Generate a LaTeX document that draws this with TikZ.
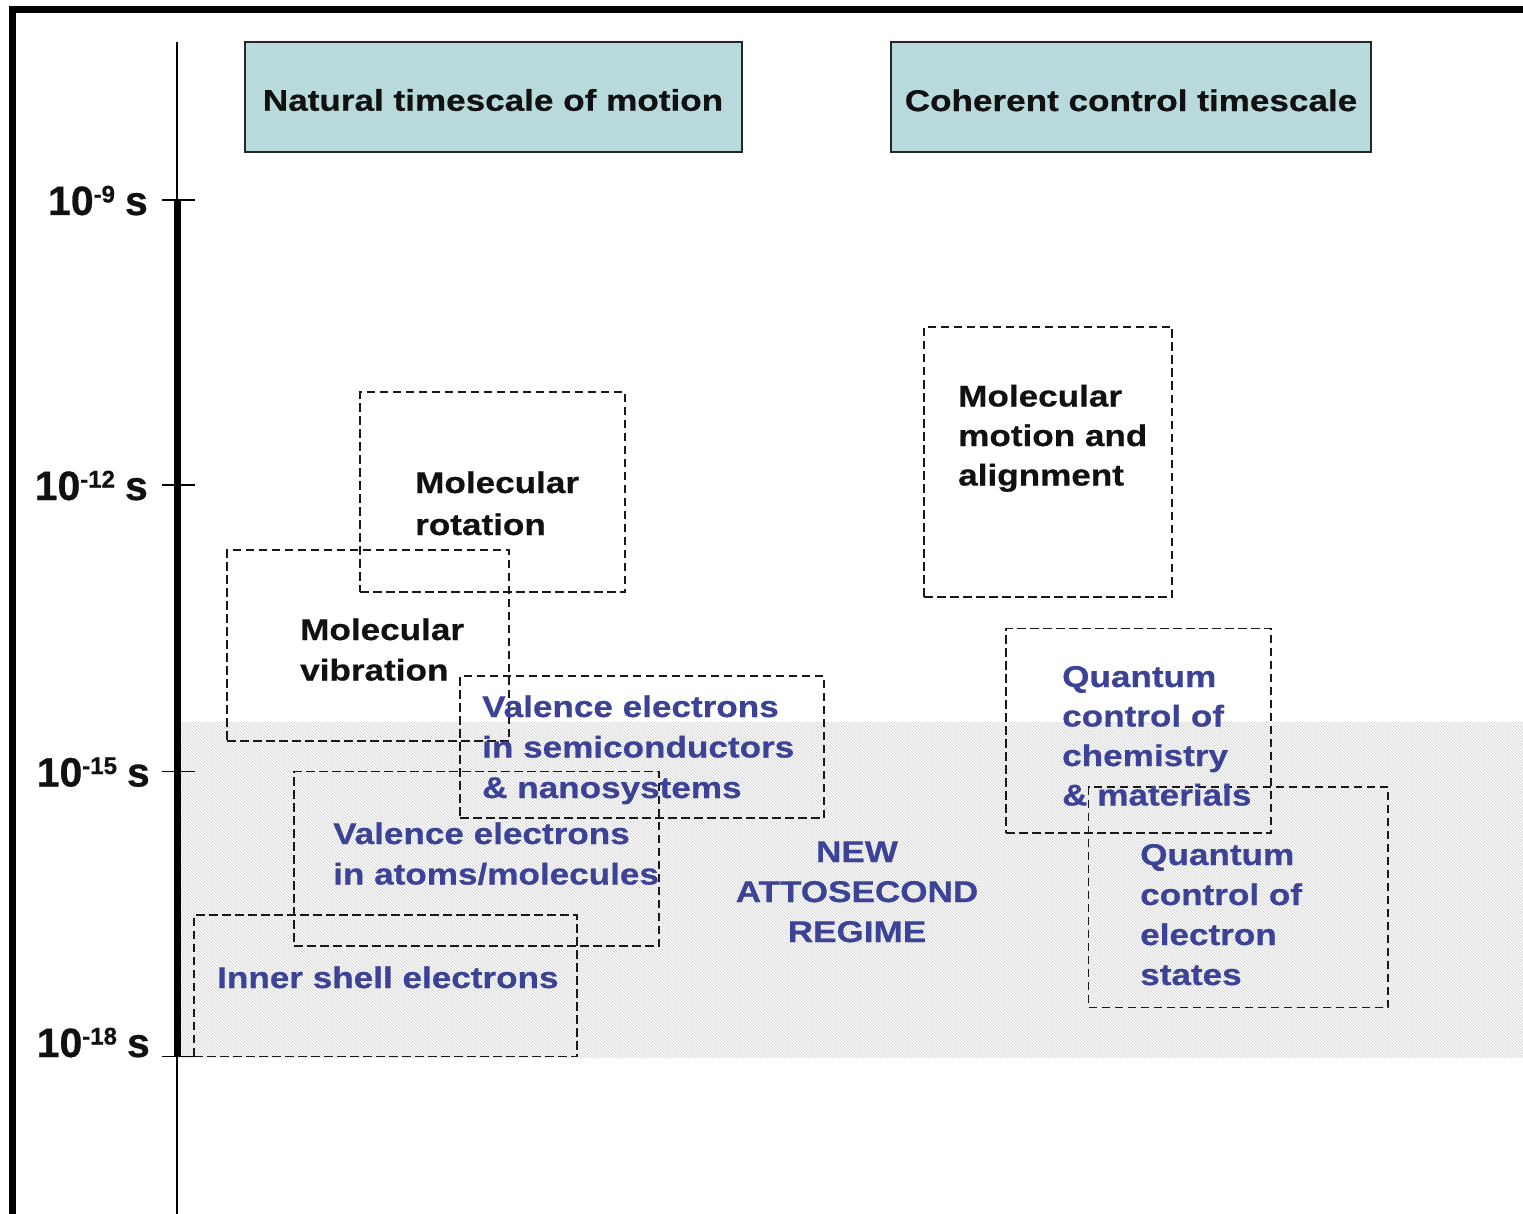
\documentclass[tikz,border=0pt]{standalone}
\usepackage{fontspec}
\usetikzlibrary{patterns,fit}
\newfontfamily\lab{Liberation Sans}[FakeStretch=1.17,FakeBold=0.6]
\newfontfamily\axf{Liberation Sans}[FakeBold=0.6]
\definecolor{hdrfill}{RGB}{184,218,221}
\definecolor{txtblue}{RGB}{60,66,150}
\definecolor{txtblack}{RGB}{17,17,17}
\newcommand\stk[2][40.5pt]{\vtop{\baselineskip=#1\lineskiplimit=-100pt\lineskip=0pt\halign{##\hfil\cr#2\crcr}}}
\newcommand\stkc[2][40pt]{\vtop{\baselineskip=#1\lineskiplimit=-100pt\lineskip=0pt\halign{\hfil##\hfil\cr#2\crcr}}}
\newcommand\axl[1]{10\raisebox{12.5pt}{\fontsize{24}{24}\selectfont #1}\hspace{10pt}s}
\begin{document}
\begin{tikzpicture}[x=1pt,y=-1pt,
  dbox/.style={draw=black!90, line width=1.7pt, dash pattern=on 8.5pt off 4.5pt, inner sep=0pt},
  hdr/.style={draw=black!85, line width=2pt, fill=hdrfill, inner sep=0pt, font=\lab\bfseries\fontsize{30}{36}\selectfont, text=txtblack, text depth=0pt, text height=27.5pt},
  lblk/.style={font=\lab\bfseries\fontsize{30}{40}\selectfont, text=txtblack, inner sep=0pt, anchor=base west},
  lblu/.style={lblk, text=txtblue},
  axlab/.style={font=\axf\bfseries\fontsize{41}{41}\selectfont, text=txtblack, inner sep=0pt, anchor=base east}]
\useasboundingbox (0,0) rectangle (1523,1214);
\fill[white] (0,0) rectangle (1523,1214);
% attosecond band
\fill[gray!3] (179,722) rectangle (1523,1057);
\fill[pattern=north west lines, pattern color=gray!38] (179,722) rectangle (1523,1057);
% frame
\draw[line width=7pt] (12.5,1220) -- (12.5,10) -- (1530,10);
% axis
\draw[line width=1.8pt] (177,42) -- (177,1214);
\draw[line width=7pt] (177,200) -- (177,1057);
\foreach \y in {200,485,771.5,1056.5} \draw[line width=1.8pt] (162,\y) -- (195,\y);
\node[axlab] (t9) at (148,215) {\axl{-9}};
\node[axlab] (t12) at (148,500) {\axl{-12}};
\node[axlab] (t15) at (150,786.5) {\axl{-15}};
\node[axlab] (t18) at (150,1057) {\axl{-18}};
% headers
\node[hdr, minimum width=497pt, minimum height=110pt] (h1) at (493,97) {Natural timescale of motion};
\node[hdr, minimum width=480pt, minimum height=110pt] (h2) at (1131,97.3) {Coherent control timescale};
% dashed boxes
\node[dbox, fit={(360,392) (625,592)}] (rotB) {};
\node[dbox, fit={(227,550) (509,741)}] (vibB) {};
\node[dbox, fit={(460,676) (824,818)}] (semB) {};
\node[dbox, fit={(294,771.5) (659,946)}] (atmB) {};
\node[dbox, fit={(194,915) (577,1056.5)}] (innB) {};
\node[dbox, fit={(924,327) (1172,597)}] (motB) {};
\node[dbox, fit={(1006,628.5) (1271,833)}] (chemB) {};
\node[dbox, fit={(1088.5,787) (1388,1007.5)}] (elecB) {};
% texts
\node[lblk] (rotT) at (415,493) {\stk[42pt]{Molecular\cr rotation}};
\node[lblk] (vibT) at (300,640) {\stk{Molecular\cr vibration}};
\node[lblu] (semT) at (482,717) {\stk{Valence electrons\cr in semiconductors\cr \& nanosystems}};
\node[lblu] (atmT) at (333,844) {\stk{Valence electrons\cr in atoms/molecules}};
\node[lblu] (innT) at (217,988) {Inner shell electrons};
\node[lblk] (motT) at (958,406.5) {\stk[39.5pt]{Molecular\cr motion and\cr alignment}};
\node[lblu] (chemT) at (1062,687) {\stk[39.5pt]{Quantum\cr control of\cr chemistry\cr \& materials}};
\node[lblu] (elecT) at (1140,865) {\stk[40pt]{Quantum\cr control of\cr electron\cr states}};
\node[lblu, anchor=base] (attoT) at (857,862) {\stkc{NEW\cr ATTOSECOND\cr REGIME}};
\end{tikzpicture}
\end{document}
